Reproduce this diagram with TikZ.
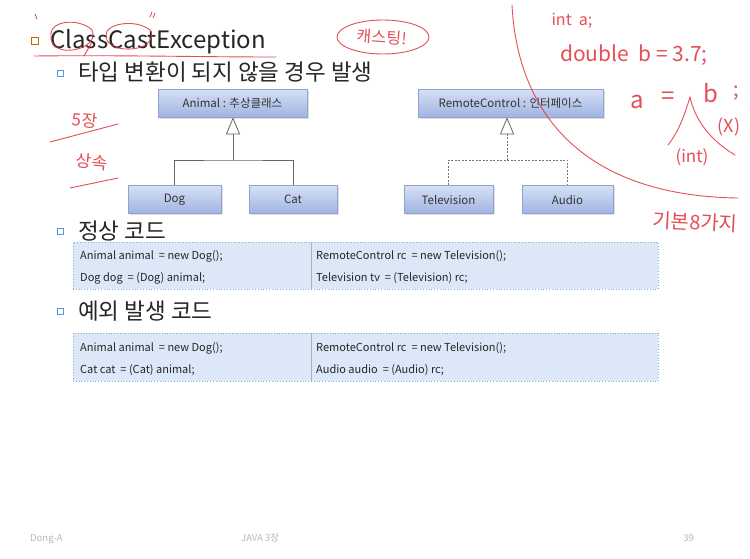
\documentclass[tikz,border=0pt]{standalone}
\usepackage{fontspec}
\setmainfont{Noto Sans CJK KR}
\newfontfamily\penfont{Noto Sans CJK KR}
\usetikzlibrary{arrows.meta,shadows,calc}
\definecolor{boxtop}{HTML}{D6E0F4}
\definecolor{boxbot}{HTML}{9FB4E2}
\definecolor{boxline}{HTML}{8EA3CF}
\definecolor{tabfill}{HTML}{DCE8F8}
\definecolor{tabline}{HTML}{7FAFD6}
\definecolor{inkred}{HTML}{E0303A}
\definecolor{foot}{HTML}{B8B8B8}
\begin{document}
\begin{tikzpicture}[x=1pt,y=-1pt,
  classbox/.style={draw=boxline, line width=0.6pt, top color=boxtop, bottom color=boxbot,
    drop shadow={shadow xshift=1.5pt, shadow yshift=-1.5pt, opacity=0.25},
    minimum height=28pt, inner sep=0pt, font=\fontsize{11.5}{13}\selectfont, text=black!80},
  inherit/.style={draw=black!60, line width=0.8pt},
  realize/.style={draw=black!55, line width=0.8pt, dash pattern=on 2pt off 1.5pt},
  opentri/.style={-{Triangle[open, length=17pt, width=14pt, line width=0.8pt]}},
  codetab/.style={draw=tabline, dotted, line width=0.8pt, fill=tabfill},
  code/.style={anchor=base west, inner sep=0pt, font=\fontsize{11}{13}\selectfont, text=black!85},
  headline/.style={anchor=base west, inner sep=0pt, text=black!85},
  bullet/.style={draw, line width=0.9pt, minimum size=6pt, inner sep=0pt},
  pen/.style={draw=inkred, line width=0.9pt, opacity=0.85, line cap=round},
  penlabel/.style={text=inkred, opacity=0.85, inner sep=0pt, font=\penfont\fontsize{#1}{#1}\selectfont},
  footer/.style={text=foot, inner sep=0pt, font=\fontsize{9.5}{11}\selectfont}]

\useasboundingbox[fill=white] (0,0) rectangle (750,558);

% headings
\node[bullet, draw=orange!80!black, minimum size=7pt] (b0) at (34.5,40.5) {};
\node[headline, font=\fontsize{24}{28}\selectfont] (title) at (50,48) {ClassCastException};
\node[bullet, draw=cyan!60!blue!70] (b1) at (60,73) {};
\node[headline, font=\fontsize{22.5}{26}\selectfont] (sub1) at (78,80) {타입 변환이 되지 않을 경우 발생};

% class hierarchy
\node[classbox, minimum width=149pt] (animal) at (232.5,103) {Animal : 추상클래스};
\node[classbox, minimum width=93pt] (dog) at (174.5,199.5) {Dog};
\node[classbox, minimum width=88pt] (cat) at (293,199.5) {Cat};
\coordinate (aj) at (233,160);
\draw[inherit] (dog.north) |- (aj) -| (cat.north);
\draw[inherit, opentri] (aj) -- (aj |- animal.south);

% interface hierarchy
\node[classbox, minimum width=185pt] (remote) at (510.5,103) {RemoteControl : 인터페이스};
\node[classbox, minimum width=89pt] (tv) at (448.5,199.5) {Television};
\node[classbox, minimum width=91pt] (audio) at (567.5,199.5) {Audio};
\coordinate (rj) at (507,160);
\coordinate (rk) at (507,135);
\draw[realize] (tv.north) |- (rj) -| (audio.north);
\draw[realize] (rj) -- (rk);
\draw[inherit, opentri] (rk) -- (rk |- remote.south);

% normal code
\node[bullet, draw=cyan!60!blue!70] (b2) at (60,231) {};
\node[headline, font=\fontsize{22.5}{26}\selectfont] (sub2) at (78,239) {정상 코드};
\node[codetab, minimum width=585pt, minimum height=47pt, inner sep=0pt] (tab1) at (365.5,265.5) {};
\draw[draw=black!30, line width=0.6pt] (311,242) -- (311,289);
\node[code] (t1a) at (80,259) {Animal animal \ = new Dog();};
\node[code] (t1b) at (80,281) {Dog dog \ = (Dog) animal;};
\node[code] (t1c) at (316,259) {RemoteControl rc \ = new Television();};
\node[code] (t1d) at (316,281) {Television tv \ = (Television) rc;};

% exception code
\node[bullet, draw=cyan!60!blue!70] (b3) at (60,311) {};
\node[headline, font=\fontsize{22.5}{26}\selectfont] (sub3) at (78,319) {예외 발생 코드};
\node[codetab, minimum width=585pt, minimum height=48pt, inner sep=0pt] (tab2) at (365.5,357) {};
\draw[draw=black!30, line width=0.6pt] (311,333) -- (311,381);
\node[code] (t2a) at (80,351) {Animal animal \ = new Dog();};
\node[code] (t2b) at (80,373) {Cat cat \ = (Cat) animal;};
\node[code] (t2c) at (316,351) {RemoteControl rc \ = new Television();};
\node[code] (t2d) at (316,373) {Audio audio \ = (Audio) rc;};

% footer
\node[footer, anchor=base west] (f1) at (30,541) {Dong-A};
\node[footer, anchor=base west] (f2) at (241,541) {JAVA 3장};
\node[footer, anchor=base east] (f3) at (694,541) {39};

% handwritten notes
\draw[pen] (512,5) .. controls (518,120) and (590,196) .. (738,198);
\draw[pen] (51,35) .. controls (50,20) and (80,18) .. (92,30) .. controls (98,42) and (80,52) .. (64,50) .. controls (54,48) and (50,42) .. (51,35);
\draw[pen] (92,42) -- (84,56);
\draw[pen] (106,36) .. controls (104,24) and (135,18) .. (150,30) .. controls (156,40) and (145,50) .. (125,49) .. controls (112,48) and (106,42) .. (106,36);
\draw[pen] (35,14) -- (37,19);
\draw[pen] (152,12) -- (150,17);
\draw[pen] (155,13) -- (153,18);
\draw[pen] (34,56) .. controls (120,55) and (200,57) .. (276,57);
\draw[pen] (383,37) ellipse [x radius=46, y radius=17];
\node[penlabel=16, rotate=-4] (cast) at (382,37) {캐스팅!};
\node[penlabel=17, rotate=-5] (ch5) at (85,120) {5장};
\draw[pen] (50,142) -- (118,124);
\node[penlabel=17, rotate=-5] (inh) at (92,162) {상속};
\draw[pen] (70,188) -- (118,178);
\node[penlabel=16] (na) at (572,21) {int \ a;};
\node[penlabel=21] (nb) at (634,55) {double \ b = 3.7;};
\node[penlabel=24] (nc1) at (637,102) {a};
\node[penlabel=24] (nc2) at (668,98) {=};
\node[penlabel=24] (nc3) at (711,93) {b};
\node[penlabel=20] (nc4) at (736,93) {;};
\draw[pen] (668,145) .. controls (680,130) and (686,110) .. (690,97) .. controls (695,120) and (710,140) .. (735,155);
\node[penlabel=18] (nx) at (729,127) {(X)};
\node[penlabel=17] (ni) at (692,157) {(int)};
\node[penlabel=20, rotate=-3] (n8) at (695,222) {기본8가지};
\end{tikzpicture}
\end{document}
